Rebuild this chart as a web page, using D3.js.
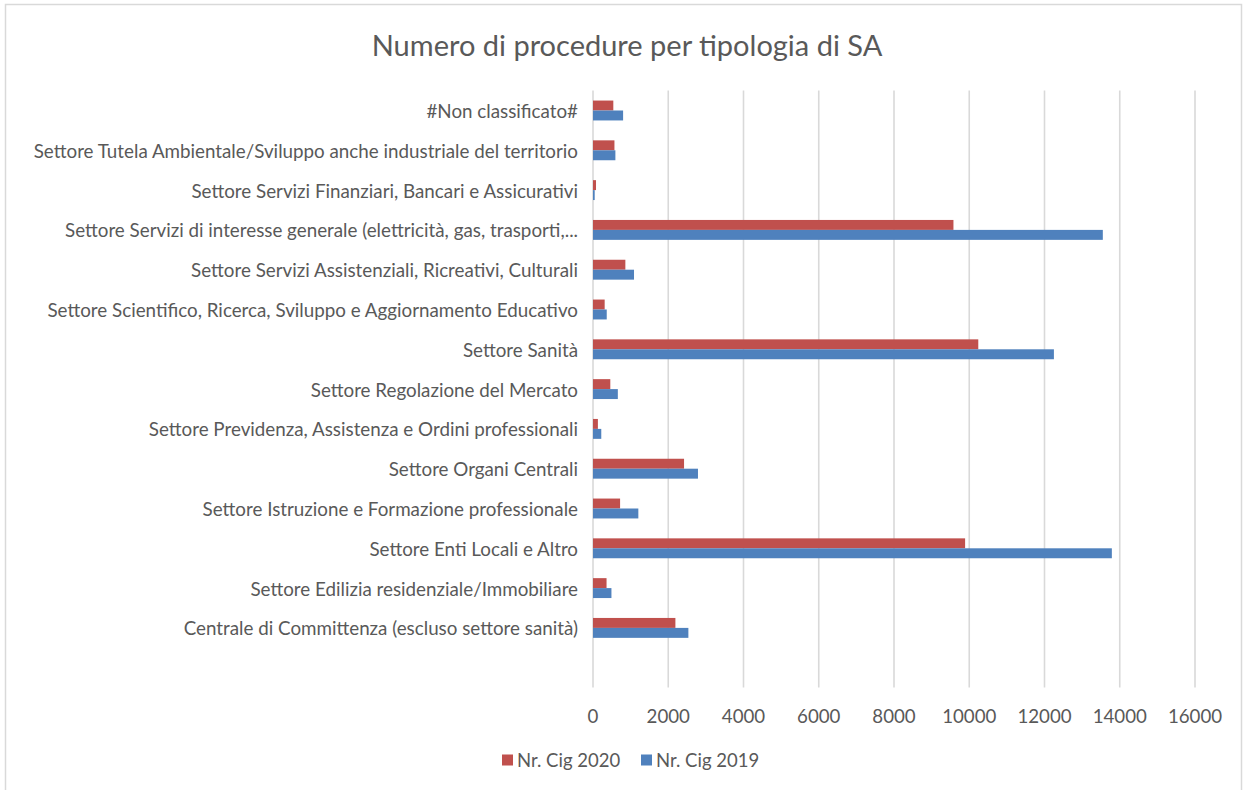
<!DOCTYPE html>
<html>
<head>
<meta charset="utf-8">
<script src="https://cdn.jsdelivr.net/npm/d3@7"></script>
<style>
  body { margin: 0; background: #fff; }
  svg text { font-family: Lato, "Open Sans", sans-serif; fill: #595959; }
</style>
</head>
<body>
<div id="chart"></div>
<script>
// categories, top to bottom
var categories = [
    "#Non classificato#",
    "Settore Tutela Ambientale/Sviluppo anche industriale del territorio",
    "Settore Servizi Finanziari, Bancari e Assicurativi",
    "Settore Servizi di interesse generale (elettricità, gas, trasporti,...",
    "Settore Servizi Assistenziali, Ricreativi, Culturali",
    "Settore Scientifico, Ricerca, Sviluppo e Aggiornamento Educativo",
    "Settore Sanità",
    "Settore Regolazione del Mercato",
    "Settore Previdenza, Assistenza e Ordini professionali",
    "Settore Organi Centrali",
    "Settore Istruzione e Formazione professionale",
    "Settore Enti Locali e Altro",
    "Settore Edilizia residenziale/Immobiliare",
    "Centrale di Committenza (escluso settore sanità)"
];
var cig2020 = [540, 570, 80, 9580, 860, 310, 10240, 460, 130, 2420, 720, 9890, 360, 2190];
var cig2019 = [800, 595, 45, 13550, 1090, 365, 12250, 660, 220, 2790, 1205, 13790, 490, 2535];
var seriesNames = ["Nr. Cig 2020", "Nr. Cig 2019"];
var seriesColors = ["#C0504D", "#4F81BD"];
var xTicks = [0, 2000, 4000, 6000, 8000, 10000, 12000, 14000, 16000];

(function() {
    var width = 1245, height = 790;
    var plotLeft = 593, plotRight = 1195, plotTop = 90.6, step = 39.8;
    var plotBottom = plotTop + 15 * step;

    var svg = d3.select("#chart").append("svg")
        .attr("width", width)
        .attr("height", height);

    // chart border
    svg.append("rect")
        .attr("x", 5.5).attr("y", 4.5)
        .attr("width", 1236).attr("height", 800)
        .attr("fill", "#fff")
        .attr("stroke", "#d9d9d9")
        .attr("stroke-width", 1.5);

    svg.append("text")
        .attr("x", 627).attr("y", 44)
        .attr("text-anchor", "middle")
        .attr("dominant-baseline", "central")
        .style("font-size", "29px")
        .text("Numero di procedure per tipologia di SA");

    var x = d3.scaleLinear().domain([0, 16000]).range([plotLeft, plotRight]);
    var y = d3.scaleBand().domain(categories).range([plotTop, plotTop + categories.length * step]);
    var ys = d3.scaleBand().domain(seriesNames).range([step * 0.25, step * 0.75]);

    // gridlines
    svg.append("g").selectAll("line")
        .data(xTicks)
        .enter().append("line")
        .attr("x1", function(d) { return x(d); })
        .attr("x2", function(d) { return x(d); })
        .attr("y1", plotTop)
        .attr("y2", plotBottom)
        .attr("stroke", "#d9d9d9")
        .attr("stroke-width", 1.6);

    // tick labels
    svg.append("g").selectAll("text")
        .data(xTicks)
        .enter().append("text")
        .attr("x", function(d) { return x(d); })
        .attr("y", 716)
        .attr("text-anchor", "middle")
        .attr("dominant-baseline", "central")
        .style("font-size", "18.7px")
        .text(function(d) { return d; });

    // category labels
    svg.append("g").selectAll("text")
        .data(categories)
        .enter().append("text")
        .attr("x", 578)
        .attr("y", function(d) { return y(d) + step / 2; })
        .attr("text-anchor", "end")
        .attr("dominant-baseline", "central")
        .style("font-size", "18.8px")
        .text(function(d) { return d; });

    // bars
    var rows = categories.map(function(c, i) {
        return { cat: c, values: [cig2020[i], cig2019[i]] };
    });

    var groups = svg.append("g").selectAll("g")
        .data(rows)
        .enter().append("g")
        .attr("transform", function(d) { return "translate(0," + y(d.cat) + ")"; });

    groups.selectAll("rect")
        .data(function(d) { return d.values.map(function(v, i) { return { s: seriesNames[i], v: v, i: i }; }); })
        .enter().append("rect")
        .attr("x", x(0))
        .attr("y", function(d) { return ys(d.s); })
        .attr("width", function(d) { return x(d.v) - x(0); })
        .attr("height", ys.bandwidth())
        .attr("fill", function(d) { return seriesColors[d.i]; });

    // legend
    var legendX = [502, 641];
    var legend = svg.append("g").selectAll("g")
        .data(seriesNames)
        .enter().append("g")
        .attr("transform", function(d, i) { return "translate(" + legendX[i] + ",760)"; });

    legend.append("rect")
        .attr("x", 0).attr("y", -5.5)
        .attr("width", 11).attr("height", 11)
        .attr("fill", function(d, i) { return seriesColors[i]; });

    legend.append("text")
        .attr("x", 15).attr("y", 0)
        .attr("dominant-baseline", "central")
        .style("font-size", "18.5px")
        .text(function(d) { return d; });
})();
</script>
</body>
</html>
